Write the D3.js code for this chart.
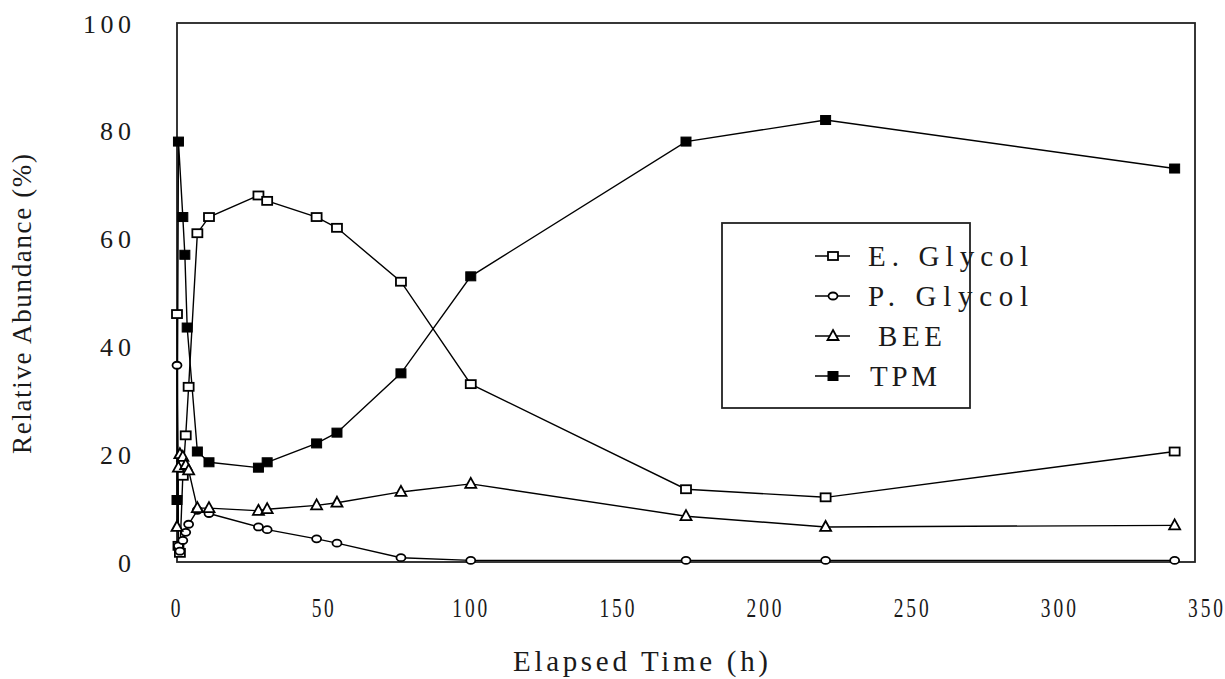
<!DOCTYPE html>
<html>
<head>
<meta charset="utf-8">
<script src="https://cdn.jsdelivr.net/npm/d3@7"></script>
<style>
  html, body { margin: 0; padding: 0; background: #fff; }
  svg text { font-family: "Liberation Serif", "DejaVu Serif", serif; fill: #1a1a1a; }
</style>
</head>
<body>
<svg id="chart" width="1225" height="679"></svg>
<script>
// ---- data ----
const eGlycolTimes = [0, 0.5, 1, 2, 3, 4, 7, 11, 28, 31, 48, 55, 77, 101, 175, 223, 343];
const eGlycol      = [46, 3, 1.7, 16, 23.5, 32.5, 61, 64, 68, 67, 64, 62, 52, 33, 13.5, 12, 20.5];
const pGlycolTimes = [0, 0.5, 1, 2, 3, 4, 7, 11, 28, 31, 48, 55, 77, 101, 175, 223, 343];
const pGlycol      = [36.5, 3, 2, 4, 5.5, 7, 9.6, 9, 6.5, 6, 4.3, 3.5, 0.8, 0.3, 0.3, 0.3, 0.3];
const beeTimes     = [0, 0.5, 1, 2, 3, 4, 7, 11, 28, 31, 48, 55, 77, 101, 175, 223, 343];
const bee          = [6.5, 17.5, 20, 19.5, 18, 17, 10, 10, 9.5, 9.8, 10.5, 11, 13, 14.5, 8.5, 6.5, 6.8];
const tpmTimes     = [0, 0.5, 2, 2.7, 3.5, 7, 11, 28, 31, 48, 55, 77, 101, 175, 223, 343];
const tpm          = [11.5, 78, 64, 57, 43.5, 20.5, 18.5, 17.5, 18.5, 22, 24, 35, 53, 78, 82, 73];
const seriesNames = ["E. Glycol", "P. Glycol", "BEE", "TPM"];
const seriesMarkers = ["openSquare", "openCircle", "openTriangle", "filledSquare"];
const xTicks = [0, 50, 100, 150, 200, 250, 300, 350];
const yTicks = [0, 20, 40, 60, 80, 100];
const xTitle = "Elapsed Time (h)";
const yTitle = "Relative Abundance (%)";

const seriesTimes = [eGlycolTimes, pGlycolTimes, beeTimes, tpmTimes];
const seriesValues = [eGlycol, pGlycol, bee, tpm];

(function () {
const svg = d3.select("#chart");
const pl = 177, pr = 1195, pt = 23, pb = 562;
const x = d3.scaleLinear().domain([0, 350]).range([pl, pr]);
const y = d3.scaleLinear().domain([0, 100]).range([pb, pt]);
// tick labels in the reference are spread slightly wider than the frame
const xLab = d3.scaleLinear().domain([0, 350]).range([175, 1205]);

// place (optionally condensed) text: (px, py) is the anchor point in the parent's coords
function condensed(sel, px, py, len, anchor, font, sx) {
  sel.attr("x", px / sx).attr("y", py)
    .attr("text-anchor", anchor || "start")
    .style("font-size", font + "px");
  if (sx !== 1) sel.attr("transform", `scale(${sx},1)`);
  if (len) sel.attr("textLength", len / sx).attr("lengthAdjust", "spacing");
}

// frame
svg.append("rect")
  .attr("x", pl).attr("y", pt)
  .attr("width", pr - pl).attr("height", pb - pt)
  .attr("fill", "none").attr("stroke", "#222").attr("stroke-width", 1.8);

// x axis labels (compact)
const xLen = s => ({1: 9, 2: 22, 3: 35})[String(s).length];
const xAxis = d3.axisBottom(xLab).tickValues(xTicks).tickSize(0).tickPadding(0).tickFormat(d3.format("d"));
const gx = svg.append("g").attr("transform", `translate(0,${pb})`).call(xAxis);
gx.select(".domain").remove();
gx.selectAll("text").each(function (d) {
  const s = d3.select(this).attr("dy", null).attr("fill", "#1a1a1a")
    .style("font-family", "'Liberation Serif', serif");
  condensed(s, 0, 55, xLen(d), "middle", 27, 0.72);
});

// y axis labels (spaced)
const yLen = s => ({1: 12, 2: 31, 3: 48})[String(s).length];
const yAxis = d3.axisLeft(y).tickValues(yTicks).tickSize(0).tickPadding(0).tickFormat(d3.format("d"));
const gy = svg.append("g").attr("transform", `translate(${pl},0)`).call(yAxis);
gy.select(".domain").remove();
gy.selectAll("text").each(function (d) {
  const s = d3.select(this).attr("dy", null).attr("fill", "#1a1a1a")
    .style("font-family", "'Liberation Serif', serif");
  condensed(s, -46, 9, yLen(d), "end", 26, 1);
});

// titles
condensed(svg.append("text").text(xTitle), 513, 671, 255, "start", 29, 1);

const gyt = svg.append("g").attr("transform", "translate(31,454) rotate(-90)");
condensed(gyt.append("text").text(yTitle), 0, 0, 300, "start", 27, 1);

// markers
function drawMarker(g, type, cx, cy) {
  if (type === "openSquare") {
    g.append("rect").attr("x", cx - 5).attr("y", cy - 4).attr("width", 10).attr("height", 8)
      .attr("fill", "#fff").attr("stroke", "#000").attr("stroke-width", 1.8);
  } else if (type === "filledSquare") {
    g.append("rect").attr("x", cx - 5).attr("y", cy - 4.5).attr("width", 10).attr("height", 9)
      .attr("fill", "#000").attr("stroke", "#000").attr("stroke-width", 1);
  } else if (type === "openCircle") {
    g.append("ellipse").attr("cx", cx).attr("cy", cy).attr("rx", 4.5).attr("ry", 3.5)
      .attr("fill", "#fff").attr("stroke", "#000").attr("stroke-width", 1.8);
  } else if (type === "openTriangle") {
    g.append("path").attr("d", `M${cx},${cy - 6} L${cx + 5.5},${cy + 4} L${cx - 5.5},${cy + 4} Z`)
      .attr("fill", "#fff").attr("stroke", "#000").attr("stroke-width", 1.8);
  }
}

const line = d3.line().x(d => x(d[0])).y(d => y(d[1]));

seriesValues.forEach((vals, s) => {
  const pts = seriesTimes[s].map((t, i) => [t, vals[i]]);
  svg.append("path").datum(pts)
    .attr("d", line).attr("fill", "none")
    .attr("stroke", "#000").attr("stroke-width", 1.4);
});
seriesValues.forEach((vals, s) => {
  const g = svg.append("g");
  seriesTimes[s].forEach((t, i) => drawMarker(g, seriesMarkers[s], x(t), y(vals[i])));
});

// legend
const lg = svg.append("g");
lg.append("rect").attr("x", 722).attr("y", 223).attr("width", 248).attr("height", 185)
  .attr("fill", "#fff").attr("stroke", "#222").attr("stroke-width", 1.8);
const legendX = [868, 868, 878, 870];
const legendLen = [160, 160, 64, 67];
seriesNames.forEach((name, i) => {
  const cy = 256 + i * 40;
  lg.append("line").attr("x1", 815).attr("x2", 850).attr("y1", cy).attr("y2", cy)
    .attr("stroke", "#000").attr("stroke-width", 1.6);
  drawMarker(lg, seriesMarkers[i], 833, cy);
  condensed(lg.append("text").text(name), legendX[i], cy + 10, legendLen[i], "start", 29, 1);
});
})();
</script>
</body>
</html>
